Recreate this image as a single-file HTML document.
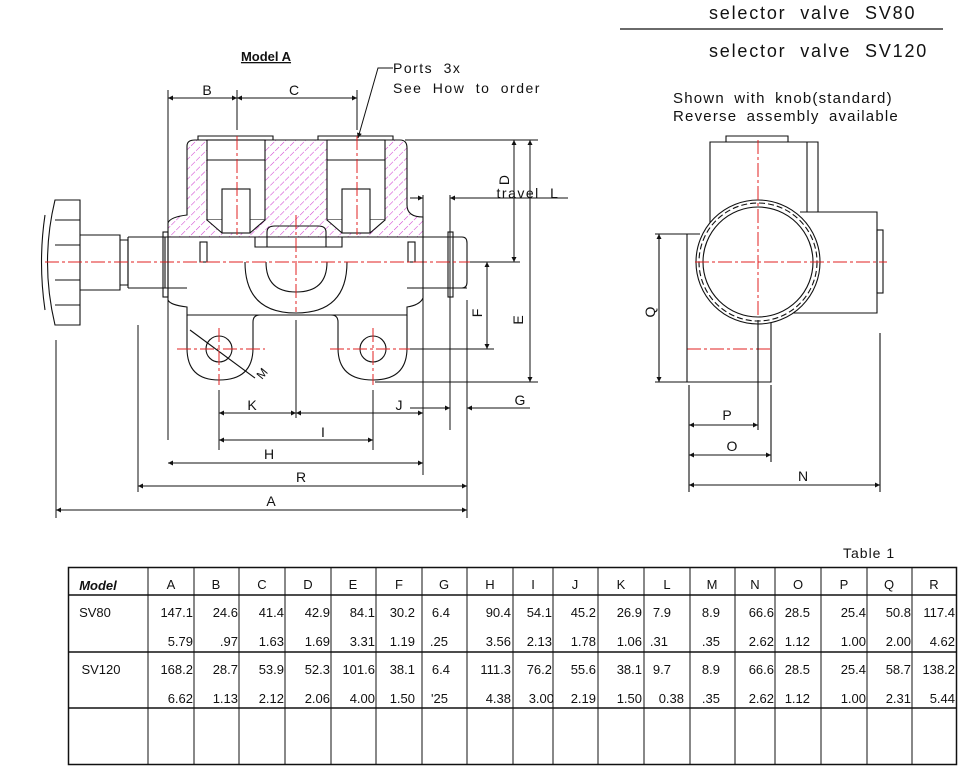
<!DOCTYPE html>
<html><head><meta charset="utf-8"><style>
body{margin:0;background:#fff}
svg{display:block}
text{font-family:"Liberation Sans",sans-serif;fill:#111}
</style></head><body>
<svg width="972" height="782" viewBox="0 0 972 782" xmlns="http://www.w3.org/2000/svg">
<defs>
<pattern id="h" width="7" height="7" patternUnits="userSpaceOnUse" patternTransform="rotate(45)">
<line x1="0" y1="0" x2="0" y2="7" stroke="#d040d0" stroke-width="1.1" stroke-dasharray="3,1.5"/>
</pattern>
<marker id="a" viewBox="0 0 10 10" refX="10" refY="5" markerWidth="12" markerHeight="5" orient="auto-start-reverse" markerUnits="userSpaceOnUse"><path d="M0,0L10,5L0,10z" fill="#111"/></marker>
</defs>

<!-- titles -->
<text x="709" y="19" font-size="18" letter-spacing="1.8" word-spacing="7">selector valve SV80</text>
<line x1="620" y1="29" x2="943" y2="29" stroke="#111" stroke-width="1.2"/>
<text x="709" y="57" font-size="18" letter-spacing="1.8" word-spacing="7">selector valve SV120</text>
<text x="673" y="103" font-size="15" letter-spacing="1.2" word-spacing="4">Shown with knob(standard)</text>
<text x="673" y="121" font-size="15" letter-spacing="1.2" word-spacing="4">Reverse assembly available</text>

<text x="266" y="61" font-size="13" font-weight="bold" text-anchor="middle" text-decoration="underline">Model A</text>
<text x="393" y="73" font-size="14" letter-spacing="1.5" word-spacing="5">Ports 3x</text>
<text x="393" y="93" font-size="14" letter-spacing="1.5" word-spacing="5">See How to order</text>
<path d="M393,68 H378 L358,138" fill="none" stroke="#111" marker-end="url(#a)"/>

<g fill="none" stroke="#111" stroke-width="1.1">
<!-- hatched body -->
<path d="M187,146 Q187,140 195,140 H400 Q407,140 407,148 V205 Q407,217 423,217 V237 H168 V223 Q170,217 187,215 Z" fill="url(#h)"/>
<rect x="207" y="140" width="58" height="80" fill="#fff"/>
<rect x="327" y="140" width="58" height="80" fill="#fff"/>
<path d="M207,220 L222,233 H250 L265,220 M327,220 L342,233 H370 L385,220" fill="#fff"/>
<path d="M207,160 H265 M327,160 H385"/>
<rect x="222" y="189" width="28" height="44" fill="#fff"/>
<rect x="342" y="189" width="28" height="44" fill="#fff"/>
<path d="M198,140 V136 H273 V140 M318,140 V136 H393 V140"/>
<!-- spool -->
<path d="M267,247 V232 Q267,226 275,226 H318 Q326,226 326,232 V247"/>
<path d="M255,237 V247 H342 V237"/>
<!-- shaft -->
<path d="M128,237 H423 M128,288 H187 M407,288 H467"/>
<path d="M128,237 V288 M165,237 V288"/>
<rect x="163" y="232" width="5" height="65"/>
<rect x="448" y="232" width="5" height="65"/>
<path d="M423,237 H462 Q467,237 467,243 V282 Q467,288 462,288 H423"/>
<path d="M80,235 H120 V290 H80"/>
<path d="M120,240 H128 V285 H120"/>
<path d="M55,200 H80 V325 H55 Q40,262 55,200 Z"/>
<path d="M45,215 Q38,262 45,310 M55,220 H80 M55,245 H80 M55,280 H80 M55,305 H80"/>
<rect x="200" y="242" width="7" height="20"/><rect x="408" y="242" width="7" height="20"/>
<!-- lower body -->
<path d="M168,237 V300 Q170,305 187,307 V315 H407 V307 Q420,305 423,298 V237"/>
<path d="M245,262 Q245,313 296,313 Q347,313 347,262"/>
<path d="M266,262 Q266,292 296,292 Q327,292 327,262"/>
<path d="M187,315 V348 Q187,380 219,380 Q253,380 253,348 V322 Q253,315 260,315"/>
<path d="M338,322 Q338,315 331,315 M338,322 V348 Q338,380 373,380 Q407,380 407,348 V315"/>
<circle cx="219" cy="349" r="13"/><circle cx="373" cy="349" r="13"/>
<path d="M190,330 L255,378"/>
</g>
<text x="262" y="380" font-size="12" transform="rotate(-50 262 380)">M</text>

<!-- red centerlines -->
<g stroke="#e02020" stroke-width="1" stroke-dasharray="14,3,3,3" fill="none">
<line x1="45" y1="262" x2="480" y2="262"/>
<line x1="237" y1="136" x2="237" y2="235"/>
<line x1="357" y1="136" x2="357" y2="235"/>
<line x1="296" y1="215" x2="296" y2="312"/>
<line x1="177" y1="349" x2="265" y2="349"/><line x1="219" y1="328" x2="219" y2="385"/>
<line x1="330" y1="349" x2="420" y2="349"/><line x1="373" y1="328" x2="373" y2="385"/>
<line x1="695" y1="262" x2="887" y2="262"/>
<line x1="758" y1="140" x2="758" y2="345"/>
<line x1="687" y1="349" x2="771" y2="349"/>
</g>

<!-- dimensions left -->
<g stroke="#111" stroke-width="1" fill="none">
<line x1="168" y1="90" x2="168" y2="440"/><line x1="237" y1="90" x2="237" y2="130"/><line x1="357" y1="90" x2="357" y2="130"/>
<line x1="168" y1="98" x2="237" y2="98" marker-start="url(#a)" marker-end="url(#a)"/>
<line x1="237" y1="98" x2="357" y2="98" marker-start="url(#a)" marker-end="url(#a)"/>
<line x1="405" y1="140" x2="538" y2="140"/>
<line x1="470" y1="262" x2="520" y2="262"/>
<line x1="514" y1="140" x2="514" y2="262" marker-start="url(#a)" marker-end="url(#a)"/>
<line x1="530" y1="140" x2="530" y2="382" marker-start="url(#a)" marker-end="url(#a)"/>
<line x1="375" y1="382" x2="538" y2="382"/>
<line x1="410" y1="349" x2="494" y2="349"/>
<line x1="487" y1="262" x2="487" y2="349" marker-start="url(#a)" marker-end="url(#a)"/>
<line x1="423" y1="195" x2="423" y2="475"/><line x1="450" y1="195" x2="450" y2="430"/>
<line x1="410" y1="198" x2="423" y2="198" marker-end="url(#a)"/>
<line x1="568" y1="198" x2="450" y2="198" marker-end="url(#a)"/>
<line x1="410" y1="408" x2="450" y2="408" marker-end="url(#a)"/>
<line x1="530" y1="408" x2="467" y2="408" marker-end="url(#a)"/>
<line x1="467" y1="300" x2="467" y2="518"/>
<line x1="219" y1="390" x2="219" y2="450"/><line x1="373" y1="390" x2="373" y2="450"/>
<line x1="296" y1="320" x2="296" y2="418"/>
<line x1="219" y1="413" x2="296" y2="413" marker-start="url(#a)" marker-end="url(#a)"/>
<line x1="296" y1="413" x2="423" y2="413" marker-start="url(#a)" marker-end="url(#a)"/>
<line x1="219" y1="440" x2="373" y2="440" marker-start="url(#a)" marker-end="url(#a)"/>
<line x1="168" y1="463" x2="423" y2="463" marker-start="url(#a)" marker-end="url(#a)"/>
<line x1="138" y1="325" x2="138" y2="492"/>
<line x1="138" y1="486" x2="467" y2="486" marker-start="url(#a)" marker-end="url(#a)"/>
<line x1="56" y1="340" x2="56" y2="518"/>
<line x1="56" y1="510" x2="467" y2="510" marker-start="url(#a)" marker-end="url(#a)"/>
</g>
<g font-size="14" text-anchor="middle">
<text x="207" y="95">B</text><text x="294" y="95">C</text>
<text x="528" y="198" letter-spacing="1.5" word-spacing="5">travel L</text>
<text x="252" y="410">K</text><text x="399" y="410">J</text><text x="520" y="405">G</text>
<text x="323" y="437">I</text><text x="269" y="459">H</text><text x="301" y="482">R</text><text x="271" y="506">A</text>
<text transform="translate(509,180) rotate(-90)">D</text>
<text transform="translate(523,320) rotate(-90)">E</text>
<text transform="translate(482,313) rotate(-90)">F</text>
<text transform="translate(655,312) rotate(-90)">Q</text>
<text x="727" y="420">P</text><text x="732" y="451">O</text><text x="803" y="481">N</text>
</g>

<!-- right view -->
<g stroke="#111" stroke-width="1.1" fill="none">
<path d="M726,142 V136 H788 V142"/>
<path d="M710,226 V142 H818 V212"/>
<line x1="807" y1="142" x2="807" y2="212"/>
<path d="M800,212 H877 V313 H770"/>
<rect x="877" y="230" width="6" height="63"/>
<path d="M687,234 V382 H771 V318"/>
<circle cx="758" cy="262" r="62" fill="#fff"/>
<circle cx="758" cy="262" r="59" stroke-dasharray="6,3"/>
<circle cx="758" cy="262" r="55"/>
<line x1="655" y1="234" x2="700" y2="234"/><line x1="655" y1="382" x2="690" y2="382"/>
<line x1="659" y1="234" x2="659" y2="382" marker-start="url(#a)" marker-end="url(#a)"/>
<line x1="689" y1="385" x2="689" y2="492"/><line x1="758" y1="320" x2="758" y2="430"/><line x1="771" y1="385" x2="771" y2="462"/>
<line x1="880" y1="333" x2="880" y2="492"/>
<line x1="689" y1="425" x2="758" y2="425" marker-start="url(#a)" marker-end="url(#a)"/>
<line x1="689" y1="455" x2="771" y2="455" marker-start="url(#a)" marker-end="url(#a)"/>
<line x1="689" y1="485" x2="880" y2="485" marker-start="url(#a)" marker-end="url(#a)"/>
</g>
<g stroke="#e02020" stroke-dasharray="14,3,3,3"><line x1="695" y1="262" x2="887" y2="262"/><line x1="758" y1="140" x2="758" y2="318"/></g>

<!-- table -->
<text x="843" y="558" font-size="14" letter-spacing="1">Table 1</text>
<g stroke="#111" fill="none">
<rect x="68.5" y="567.5" width="888" height="197" stroke-width="1.5"/>
<line x1="68" y1="595" x2="957" y2="595" stroke-width="1.5"/>
<line x1="68" y1="652" x2="957" y2="652" stroke-width="1.5"/>
<line x1="68" y1="708" x2="957" y2="708" stroke-width="1.5"/>
<g stroke-width="1">
<line x1="148" y1="567" x2="148" y2="765"/><line x1="194" y1="567" x2="194" y2="765"/><line x1="239" y1="567" x2="239" y2="765"/><line x1="285" y1="567" x2="285" y2="765"/><line x1="331" y1="567" x2="331" y2="765"/><line x1="376" y1="567" x2="376" y2="765"/><line x1="422" y1="567" x2="422" y2="765"/><line x1="467" y1="567" x2="467" y2="765"/><line x1="513" y1="567" x2="513" y2="765"/><line x1="553" y1="567" x2="553" y2="765"/><line x1="598" y1="567" x2="598" y2="765"/><line x1="644" y1="567" x2="644" y2="765"/><line x1="690" y1="567" x2="690" y2="765"/><line x1="735" y1="567" x2="735" y2="765"/><line x1="775" y1="567" x2="775" y2="765"/><line x1="821" y1="567" x2="821" y2="765"/><line x1="867" y1="567" x2="867" y2="765"/><line x1="912" y1="567" x2="912" y2="765"/>
</g></g>
<g font-size="13" text-anchor="middle">
<text x="98" y="590" font-weight="bold" font-style="italic" font-family="Liberation Serif">Model</text>
<text x="171" y="589">A</text><text x="216" y="589">B</text><text x="262" y="589">C</text><text x="308" y="589">D</text><text x="353" y="589">E</text><text x="399" y="589">F</text><text x="444" y="589">G</text><text x="490" y="589">H</text><text x="533" y="589">I</text><text x="575" y="589">J</text><text x="621" y="589">K</text><text x="667" y="589">L</text><text x="712" y="589">M</text><text x="755" y="589">N</text><text x="798" y="589">O</text><text x="844" y="589">P</text><text x="889" y="589">Q</text><text x="934" y="589">R</text>
</g>
<g font-size="13" text-anchor="end">
<text x="95" y="617" text-anchor="middle">SV80</text>
<text x="193" y="617">147.1</text><text x="238" y="617">24.6</text><text x="284" y="617">41.4</text><text x="330" y="617">42.9</text><text x="375" y="617">84.1</text><text x="415" y="617">30.2</text><text x="450" y="617">6.4</text><text x="511" y="617">90.4</text><text x="552" y="617">54.1</text><text x="596" y="617">45.2</text><text x="642" y="617">26.9</text><text x="671" y="617">7.9</text><text x="720" y="617">8.9</text><text x="774" y="617">66.6</text><text x="810" y="617">28.5</text><text x="866" y="617">25.4</text><text x="911" y="617">50.8</text><text x="955" y="617">117.4</text>
<text x="193" y="646">5.79</text><text x="238" y="646">.97</text><text x="284" y="646">1.63</text><text x="330" y="646">1.69</text><text x="375" y="646">3.31</text><text x="415" y="646">1.19</text><text x="448" y="646">.25</text><text x="511" y="646">3.56</text><text x="552" y="646">2.13</text><text x="596" y="646">1.78</text><text x="642" y="646">1.06</text><text x="668" y="646">.31</text><text x="720" y="646">.35</text><text x="774" y="646">2.62</text><text x="810" y="646">1.12</text><text x="866" y="646">1.00</text><text x="911" y="646">2.00</text><text x="955" y="646">4.62</text>
<text x="101" y="674" text-anchor="middle">SV120</text>
<text x="193" y="674">168.2</text><text x="238" y="674">28.7</text><text x="284" y="674">53.9</text><text x="330" y="674">52.3</text><text x="375" y="674">101.6</text><text x="415" y="674">38.1</text><text x="450" y="674">6.4</text><text x="511" y="674">111.3</text><text x="552" y="674">76.2</text><text x="596" y="674">55.6</text><text x="642" y="674">38.1</text><text x="671" y="674">9.7</text><text x="720" y="674">8.9</text><text x="774" y="674">66.6</text><text x="810" y="674">28.5</text><text x="866" y="674">25.4</text><text x="911" y="674">58.7</text><text x="955" y="674">138.2</text>
<text x="193" y="703">6.62</text><text x="238" y="703">1.13</text><text x="284" y="703">2.12</text><text x="330" y="703">2.06</text><text x="375" y="703">4.00</text><text x="415" y="703">1.50</text><text x="448" y="703">'25</text><text x="511" y="703">4.38</text><text x="554" y="703">3.00</text><text x="596" y="703">2.19</text><text x="642" y="703">1.50</text><text x="684" y="703">0.38</text><text x="720" y="703">.35</text><text x="774" y="703">2.62</text><text x="810" y="703">1.12</text><text x="866" y="703">1.00</text><text x="911" y="703">2.31</text><text x="955" y="703">5.44</text>
</g>
</svg>
</body></html>
